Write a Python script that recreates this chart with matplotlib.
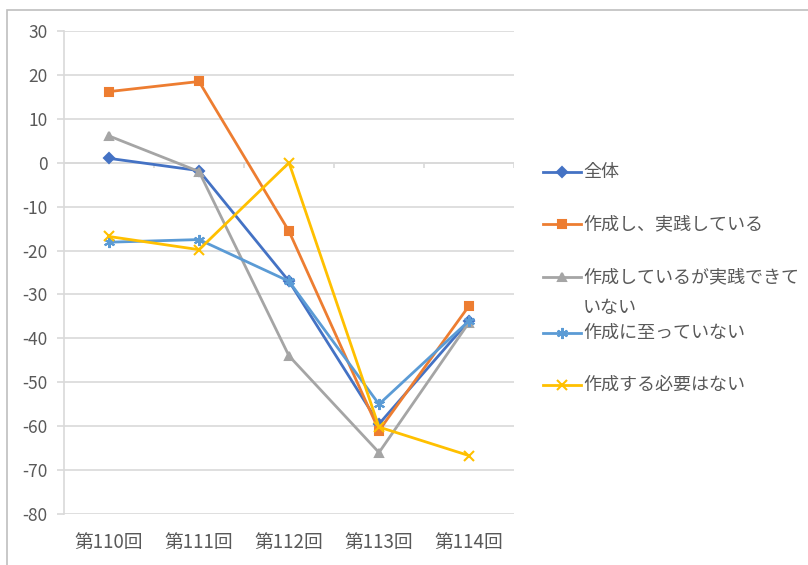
import matplotlib.pyplot as plt
from matplotlib.lines import Line2D
from matplotlib.patches import Rectangle

plt.rcParams['font.family'] = ['Noto Sans CJK JP', 'DejaVu Sans']
plt.rcParams['axes.unicode_minus'] = False

# 各回ごとの値
rounds = ['第110回', '第111回', '第112回', '第113回', '第114回']
zentai = [1.0, -1.8, -27.0, -59.5, -36.0]
jissen = [16.2, 18.5, -15.6, -61.0, -32.6]
mijissen = [6.1, -2.0, -44.0, -66.0, -36.4]
mitassei = [-18.1, -17.5, -27.0, -55.0, -36.0]
fuyou = [-16.8, -19.8, 0.0, -60.2, -66.7]

labels = ['全体', '作成し、実践している', '作成しているが実践できて\nいない',
          '作成に至っていない', '作成する必要はない']
series = [zentai, jissen, mijissen, mitassei, fuyou]
colors = ['#4472C4', '#ED7D31', '#A5A5A5', '#5B9BD5', '#FFC000']
markers = ['D', 's', '^', (6, 2, 0), 'x']
msizes = [5, 6, 6, 8, 7]

text_color = '#595959'
grid_color = '#D9D9D9'

fig = plt.figure(figsize=(8.08, 5.65), dpi=100)
ax = fig.add_axes([64 / 808, 1 - 514 / 565, 450 / 808, 483 / 565])

x = list(range(len(rounds)))
for vals, c, m, ms in zip(series, colors, markers, msizes):
    ax.plot(x, vals, color=c, lw=2.0, marker=m, ms=ms,
            markerfacecolor=c, markeredgecolor=c, markeredgewidth=1.5,
            zorder=3)

ax.set_xlim(-0.5, len(rounds) - 0.5)
ax.set_ylim(-80, 30)
ax.set_yticks(range(-80, 31, 10))
ax.yaxis.grid(True, color=grid_color, lw=1.2)
ax.set_axisbelow(True)

# 横軸は0の位置、区切りの目盛りは下向き
ax.axhline(0, color=grid_color, lw=1.2, zorder=1)
ax.vlines([i + 0.5 for i in range(len(rounds))], -1.2, 0,
          color=grid_color, lw=1.2, zorder=1)

ax.set_xticks(x)
ax.set_xticklabels(rounds)
for s in ['top', 'right', 'bottom']:
    ax.spines[s].set_visible(False)
ax.spines['left'].set_color(grid_color)
ax.spines['left'].set_linewidth(1.2)
ax.tick_params(axis='x', length=0, pad=13, labelsize=13.5, labelcolor=text_color)
ax.tick_params(axis='y', length=5, width=1.2, color=grid_color, pad=7,
               labelsize=12.5, labelcolor=text_color)

# 凡例
legend_y = [172, 224, 277, 333, 385]
for lab, c, m, ms, ly in zip(labels, colors, markers, msizes, legend_y):
    yf = 1 - ly / 565
    fig.add_artist(Line2D([543 / 808, 581 / 808], [yf, yf], color=c, lw=2.0))
    fig.add_artist(Line2D([562 / 808], [yf], color=c, marker=m, ms=ms,
                          markerfacecolor=c, markeredgecolor=c,
                          markeredgewidth=1.5))
    fig.text(583 / 808, yf + 0.016, lab, fontsize=13, color=text_color,
             va='top', ha='left', linespacing=1.95)

# グラフエリアの枠
fig.add_artist(Rectangle((7 / 808, -0.05), 1.2, 1 - 10 / 565 + 0.05,
                         transform=fig.transFigure, fill=False,
                         edgecolor='#BFBFBF', lw=1.2))

fig.savefig('out.png', dpi=100)
